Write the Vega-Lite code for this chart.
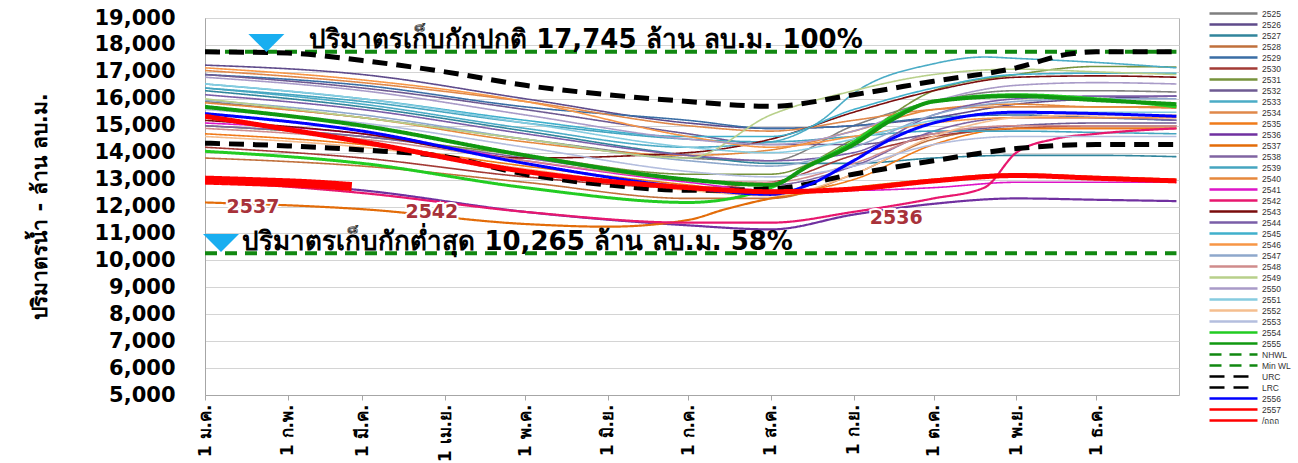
{
"$schema": "https://vega.github.io/schema/vega-lite/v6.json",
"width": 974, "height": 377,
"autosize": {"type": "none"},
"padding": {"left": 205, "top": 18, "right": 119, "bottom": 68},
"background": "white",
"config": {"view": {"stroke": "#b4b4b4"}, "font": "DejaVu Sans"},
"encoding": {
"x": {"field": "d", "type": "temporal",
 "scale": {"type": "utc", "domain": [{"year": 2014, "month": 1, "date": 1, "utc": true}, {"year": 2014, "month": 12, "date": 31, "hours": 23, "utc": true}]},
 "axis": {"title": null, "tickCount": {"interval": "month", "step": 1}, "labelExpr": "'1 ' + ['ม.ค.','ก.พ.','มี.ค.','เม.ย.','พ.ค.','มิ.ย.','ก.ค.','ส.ค.','ก.ย.','ต.ค.','พ.ย.','ธ.ค.'][utcmonth(datum.value)]", "labelAngle": 270, "labelFontSize": 17, "labelFontWeight": "bold", "labelColor": "black", "labelPadding": 4, "tickSize": 5, "tickColor": "#a6a6a6", "domainColor": "#a6a6a6", "grid": false, "labelOverlap": false, "labelFlush": false}},
"y": {"field": "v", "type": "quantitative",
 "scale": {"domain": [5000, 19000], "nice": false, "zero": false},
 "axis": {"values": [5000,6000,7000,8000,9000,10000,11000,12000,13000,14000,15000,16000,17000,18000,19000], "tickCount": 15, "labelExpr": "format(datum.value, ',')", "labelOverlap": false, "labelFontSize": 21, "labelFontWeight": "bold", "labelColor": "black", "labelPadding": 30, "ticks": false, "domainColor": "#a6a6a6", "gridColor": "#d4d4d4", "title": "ปริมาตรน้ำ - ล้าน ลบ.ม.", "titleFontSize": 21, "titleFontWeight": "bold", "titleColor": "black", "titleAngle": 270, "titleX": -165, "titleY": 188, "titleAlign": "center", "titleBaseline": "middle"}}
},
"layer": [
{
"data": {"values": [
{"s":"2525","d":"2014-01-01","v":15900},{"s":"2525","d":"2014-03-01","v":15300},{"s":"2525","d":"2014-05-01","v":14500},{"s":"2525","d":"2014-07-01","v":13800},{"s":"2525","d":"2014-08-01","v":13700},{"s":"2525","d":"2014-09-01","v":15000},{"s":"2525","d":"2014-10-01","v":15900},{"s":"2525","d":"2014-11-01","v":16300},{"s":"2525","d":"2014-12-01","v":16300},{"s":"2525","d":"2014-12-31","v":16250},
{"s":"2526","d":"2014-01-01","v":17250},{"s":"2526","d":"2014-03-01","v":16900},{"s":"2526","d":"2014-05-01","v":16000},{"s":"2526","d":"2014-07-01","v":15100},{"s":"2526","d":"2014-08-01","v":14900},{"s":"2526","d":"2014-09-01","v":15000},{"s":"2526","d":"2014-10-01","v":15300},{"s":"2526","d":"2014-11-01","v":15800},{"s":"2526","d":"2014-12-01","v":16000},{"s":"2526","d":"2014-12-31","v":16100},
{"s":"2527","d":"2014-01-01","v":16300},{"s":"2527","d":"2014-03-01","v":15700},{"s":"2527","d":"2014-05-01","v":14800},{"s":"2527","d":"2014-07-01","v":13900},{"s":"2527","d":"2014-08-01","v":13600},{"s":"2527","d":"2014-09-01","v":13600},{"s":"2527","d":"2014-10-01","v":13800},{"s":"2527","d":"2014-11-01","v":13900},{"s":"2527","d":"2014-12-01","v":13900},{"s":"2527","d":"2014-12-31","v":13850},
{"s":"2528","d":"2014-01-01","v":13800},{"s":"2528","d":"2014-03-01","v":13500},{"s":"2528","d":"2014-05-01","v":12900},{"s":"2528","d":"2014-07-01","v":12300},{"s":"2528","d":"2014-08-01","v":12300},{"s":"2528","d":"2014-09-01","v":13200},{"s":"2528","d":"2014-10-01","v":14500},{"s":"2528","d":"2014-11-01","v":14900},{"s":"2528","d":"2014-12-01","v":14900},{"s":"2528","d":"2014-12-31","v":14900},
{"s":"2529","d":"2014-01-01","v":16900},{"s":"2529","d":"2014-03-01","v":16500},{"s":"2529","d":"2014-05-01","v":15700},{"s":"2529","d":"2014-07-01","v":15200},{"s":"2529","d":"2014-08-01","v":14900},{"s":"2529","d":"2014-09-01","v":15000},{"s":"2529","d":"2014-10-01","v":15300},{"s":"2529","d":"2014-11-01","v":15400},{"s":"2529","d":"2014-12-01","v":15300},{"s":"2529","d":"2014-12-31","v":15200},
{"s":"2530","d":"2014-01-01","v":14200},{"s":"2530","d":"2014-03-01","v":13800},{"s":"2530","d":"2014-05-01","v":13100},{"s":"2530","d":"2014-07-01","v":12700},{"s":"2530","d":"2014-08-01","v":12900},{"s":"2530","d":"2014-09-01","v":13900},{"s":"2530","d":"2014-10-01","v":14600},{"s":"2530","d":"2014-11-01","v":14900},{"s":"2530","d":"2014-12-01","v":15000},{"s":"2530","d":"2014-12-31","v":15000},
{"s":"2531","d":"2014-01-01","v":15000},{"s":"2531","d":"2014-03-01","v":14600},{"s":"2531","d":"2014-05-01","v":13900},{"s":"2531","d":"2014-07-01","v":13200},{"s":"2531","d":"2014-08-01","v":13200},{"s":"2531","d":"2014-09-01","v":14500},{"s":"2531","d":"2014-10-01","v":16300},{"s":"2531","d":"2014-11-01","v":16900},{"s":"2531","d":"2014-12-01","v":17200},{"s":"2531","d":"2014-12-31","v":17180},
{"s":"2532","d":"2014-01-01","v":16900},{"s":"2532","d":"2014-03-01","v":16400},{"s":"2532","d":"2014-05-01","v":15600},{"s":"2532","d":"2014-07-01","v":14700},{"s":"2532","d":"2014-08-01","v":14300},{"s":"2532","d":"2014-09-01","v":14300},{"s":"2532","d":"2014-10-01","v":14700},{"s":"2532","d":"2014-11-01","v":15000},{"s":"2532","d":"2014-12-01","v":15100},{"s":"2532","d":"2014-12-31","v":15100},
{"s":"2533","d":"2014-01-01","v":16400},{"s":"2533","d":"2014-03-01","v":15800},{"s":"2533","d":"2014-05-01","v":14900},{"s":"2533","d":"2014-07-01","v":14200},{"s":"2533","d":"2014-08-01","v":14400},{"s":"2533","d":"2014-08-20","v":15200},{"s":"2533","d":"2014-09-01","v":16200},{"s":"2533","d":"2014-10-01","v":17300},{"s":"2533","d":"2014-10-20","v":17550},{"s":"2533","d":"2014-11-01","v":17500},{"s":"2533","d":"2014-12-01","v":17350},{"s":"2533","d":"2014-12-31","v":17150},
{"s":"2534","d":"2014-01-01","v":17050},{"s":"2534","d":"2014-03-01","v":16600},{"s":"2534","d":"2014-05-01","v":15900},{"s":"2534","d":"2014-07-01","v":15000},{"s":"2534","d":"2014-08-01","v":14800},{"s":"2534","d":"2014-09-01","v":15200},{"s":"2534","d":"2014-10-01","v":15600},{"s":"2534","d":"2014-11-01","v":15700},{"s":"2534","d":"2014-12-01","v":15700},{"s":"2534","d":"2014-12-31","v":15650},
{"s":"2535","d":"2014-01-01","v":14700},{"s":"2535","d":"2014-03-01","v":14300},{"s":"2535","d":"2014-05-01","v":13500},{"s":"2535","d":"2014-07-01","v":12800},{"s":"2535","d":"2014-08-01","v":12500},{"s":"2535","d":"2014-09-01","v":13000},{"s":"2535","d":"2014-10-01","v":14300},{"s":"2535","d":"2014-11-01","v":14900},{"s":"2535","d":"2014-12-01","v":14900},{"s":"2535","d":"2014-12-31","v":14900},
{"s":"2536","d":"2014-01-01","v":13000},{"s":"2536","d":"2014-03-01","v":12600},{"s":"2536","d":"2014-05-01","v":11800},{"s":"2536","d":"2014-07-01","v":11300},{"s":"2536","d":"2014-08-01","v":11150},{"s":"2536","d":"2014-09-01","v":11700},{"s":"2536","d":"2014-10-01","v":12100},{"s":"2536","d":"2014-11-01","v":12300},{"s":"2536","d":"2014-12-01","v":12250},{"s":"2536","d":"2014-12-31","v":12200},
{"s":"2537","d":"2014-01-01","v":12150},{"s":"2537","d":"2014-03-01","v":11900},{"s":"2537","d":"2014-05-01","v":11350},{"s":"2537","d":"2014-06-01","v":11250},{"s":"2537","d":"2014-07-01","v":11500},{"s":"2537","d":"2014-07-15","v":11900},{"s":"2537","d":"2014-08-01","v":12300},{"s":"2537","d":"2014-09-01","v":12700},{"s":"2537","d":"2014-10-01","v":13000},{"s":"2537","d":"2014-11-01","v":13200},{"s":"2537","d":"2014-12-01","v":13100},{"s":"2537","d":"2014-12-31","v":13000},
{"s":"2538","d":"2014-01-01","v":15000},{"s":"2538","d":"2014-03-01","v":14600},{"s":"2538","d":"2014-05-01","v":13800},{"s":"2538","d":"2014-07-01","v":13000},{"s":"2538","d":"2014-08-01","v":12800},{"s":"2538","d":"2014-09-01","v":13500},{"s":"2538","d":"2014-10-01","v":14800},{"s":"2538","d":"2014-11-01","v":15300},{"s":"2538","d":"2014-12-01","v":15300},{"s":"2538","d":"2014-12-31","v":15200},
{"s":"2539","d":"2014-01-01","v":16400},{"s":"2539","d":"2014-03-01","v":15900},{"s":"2539","d":"2014-05-01","v":15100},{"s":"2539","d":"2014-07-01","v":14500},{"s":"2539","d":"2014-08-01","v":14400},{"s":"2539","d":"2014-09-01","v":14600},{"s":"2539","d":"2014-10-01","v":14800},{"s":"2539","d":"2014-11-01","v":14800},{"s":"2539","d":"2014-12-01","v":14750},{"s":"2539","d":"2014-12-31","v":14700},
{"s":"2540","d":"2014-01-01","v":15850},{"s":"2540","d":"2014-03-01","v":15300},{"s":"2540","d":"2014-05-01","v":14400},{"s":"2540","d":"2014-07-01","v":13900},{"s":"2540","d":"2014-08-01","v":14100},{"s":"2540","d":"2014-09-01","v":14800},{"s":"2540","d":"2014-10-01","v":15600},{"s":"2540","d":"2014-11-01","v":15800},{"s":"2540","d":"2014-12-01","v":15700},{"s":"2540","d":"2014-12-31","v":15700},
{"s":"2541","d":"2014-01-01","v":15100},{"s":"2541","d":"2014-03-01","v":14700},{"s":"2541","d":"2014-05-01","v":13700},{"s":"2541","d":"2014-07-01","v":12900},{"s":"2541","d":"2014-08-01","v":12600},{"s":"2541","d":"2014-09-01","v":12600},{"s":"2541","d":"2014-10-01","v":12700},{"s":"2541","d":"2014-11-01","v":12900},{"s":"2541","d":"2014-12-01","v":12900},{"s":"2541","d":"2014-12-31","v":12900},
{"s":"2542","d":"2014-01-01","v":12950},{"s":"2542","d":"2014-03-01","v":12500},{"s":"2542","d":"2014-05-01","v":11800},{"s":"2542","d":"2014-07-01","v":11400},{"s":"2542","d":"2014-08-01","v":11400},{"s":"2542","d":"2014-09-01","v":11800},{"s":"2542","d":"2014-10-01","v":12300},{"s":"2542","d":"2014-10-20","v":12700},{"s":"2542","d":"2014-11-01","v":14000},{"s":"2542","d":"2014-11-15","v":14500},{"s":"2542","d":"2014-12-01","v":14700},{"s":"2542","d":"2014-12-31","v":14900},
{"s":"2543","d":"2014-01-01","v":15200},{"s":"2543","d":"2014-03-01","v":14700},{"s":"2543","d":"2014-05-01","v":13800},{"s":"2543","d":"2014-07-01","v":14000},{"s":"2543","d":"2014-08-01","v":14500},{"s":"2543","d":"2014-09-01","v":15500},{"s":"2543","d":"2014-10-01","v":16300},{"s":"2543","d":"2014-11-01","v":16800},{"s":"2543","d":"2014-12-01","v":16850},{"s":"2543","d":"2014-12-31","v":16800},
{"s":"2544","d":"2014-01-01","v":16150},{"s":"2544","d":"2014-03-01","v":15600},{"s":"2544","d":"2014-05-01","v":14700},{"s":"2544","d":"2014-07-01","v":13900},{"s":"2544","d":"2014-08-01","v":13700},{"s":"2544","d":"2014-09-01","v":14000},{"s":"2544","d":"2014-10-01","v":15400},{"s":"2544","d":"2014-11-01","v":16000},{"s":"2544","d":"2014-12-01","v":16100},{"s":"2544","d":"2014-12-31","v":16100},
{"s":"2545","d":"2014-01-01","v":16550},{"s":"2545","d":"2014-03-01","v":16000},{"s":"2545","d":"2014-05-01","v":15200},{"s":"2545","d":"2014-07-01","v":14600},{"s":"2545","d":"2014-08-01","v":14600},{"s":"2545","d":"2014-09-01","v":15600},{"s":"2545","d":"2014-10-01","v":16400},{"s":"2545","d":"2014-11-01","v":16900},{"s":"2545","d":"2014-12-01","v":16950},{"s":"2545","d":"2014-12-31","v":16950},
{"s":"2546","d":"2014-01-01","v":17150},{"s":"2546","d":"2014-03-01","v":16700},{"s":"2546","d":"2014-05-01","v":15900},{"s":"2546","d":"2014-07-01","v":14600},{"s":"2546","d":"2014-08-01","v":14200},{"s":"2546","d":"2014-09-01","v":14600},{"s":"2546","d":"2014-10-01","v":15100},{"s":"2546","d":"2014-11-01","v":15300},{"s":"2546","d":"2014-12-01","v":15300},{"s":"2546","d":"2014-12-31","v":15300},
{"s":"2547","d":"2014-01-01","v":15950},{"s":"2547","d":"2014-03-01","v":15400},{"s":"2547","d":"2014-05-01","v":14500},{"s":"2547","d":"2014-07-01","v":13700},{"s":"2547","d":"2014-08-01","v":13500},{"s":"2547","d":"2014-09-01","v":14200},{"s":"2547","d":"2014-10-01","v":15400},{"s":"2547","d":"2014-11-01","v":15900},{"s":"2547","d":"2014-12-01","v":16000},{"s":"2547","d":"2014-12-31","v":16000},
{"s":"2548","d":"2014-01-01","v":14900},{"s":"2548","d":"2014-03-01","v":14500},{"s":"2548","d":"2014-05-01","v":13700},{"s":"2548","d":"2014-07-01","v":13000},{"s":"2548","d":"2014-08-01","v":12900},{"s":"2548","d":"2014-09-01","v":13600},{"s":"2548","d":"2014-10-01","v":14700},{"s":"2548","d":"2014-11-01","v":15000},{"s":"2548","d":"2014-12-01","v":15000},{"s":"2548","d":"2014-12-31","v":15000},
{"s":"2549","d":"2014-01-01","v":16000},{"s":"2549","d":"2014-03-01","v":15300},{"s":"2549","d":"2014-05-01","v":14500},{"s":"2549","d":"2014-07-01","v":13800},{"s":"2549","d":"2014-08-01","v":15400},{"s":"2549","d":"2014-09-01","v":16300},{"s":"2549","d":"2014-10-01","v":16900},{"s":"2549","d":"2014-11-01","v":17100},{"s":"2549","d":"2014-12-01","v":17000},{"s":"2549","d":"2014-12-31","v":16900},
{"s":"2550","d":"2014-01-01","v":16800},{"s":"2550","d":"2014-03-01","v":16300},{"s":"2550","d":"2014-05-01","v":15400},{"s":"2550","d":"2014-07-01","v":14500},{"s":"2550","d":"2014-08-01","v":14300},{"s":"2550","d":"2014-09-01","v":14800},{"s":"2550","d":"2014-10-01","v":15900},{"s":"2550","d":"2014-11-01","v":16500},{"s":"2550","d":"2014-12-01","v":16600},{"s":"2550","d":"2014-12-31","v":16550},
{"s":"2551","d":"2014-01-01","v":16550},{"s":"2551","d":"2014-03-01","v":16000},{"s":"2551","d":"2014-05-01","v":15100},{"s":"2551","d":"2014-07-01","v":14200},{"s":"2551","d":"2014-08-01","v":14000},{"s":"2551","d":"2014-09-01","v":14500},{"s":"2551","d":"2014-10-01","v":15200},{"s":"2551","d":"2014-11-01","v":15500},{"s":"2551","d":"2014-12-01","v":15500},{"s":"2551","d":"2014-12-31","v":15500},
{"s":"2552","d":"2014-01-01","v":14600},{"s":"2552","d":"2014-03-01","v":14200},{"s":"2552","d":"2014-05-01","v":13400},{"s":"2552","d":"2014-07-01","v":12600},{"s":"2552","d":"2014-08-01","v":12400},{"s":"2552","d":"2014-09-01","v":13200},{"s":"2552","d":"2014-10-01","v":14600},{"s":"2552","d":"2014-11-01","v":15300},{"s":"2552","d":"2014-12-01","v":15400},{"s":"2552","d":"2014-12-31","v":15400},
{"s":"2553","d":"2014-01-01","v":15600},{"s":"2553","d":"2014-03-01","v":15100},{"s":"2553","d":"2014-05-01","v":14200},{"s":"2553","d":"2014-07-01","v":13300},{"s":"2553","d":"2014-08-01","v":13100},{"s":"2553","d":"2014-09-01","v":13500},{"s":"2553","d":"2014-10-01","v":14300},{"s":"2553","d":"2014-11-01","v":14600},{"s":"2553","d":"2014-12-01","v":14600},{"s":"2553","d":"2014-12-31","v":14600},
{"s":"2554","d":"2014-01-01","v":14050},{"s":"2554","d":"2014-03-01","v":13600},{"s":"2554","d":"2014-05-01","v":12700},{"s":"2554","d":"2014-07-01","v":12150},{"s":"2554","d":"2014-08-01","v":12700},{"s":"2554","d":"2014-08-15","v":13500},{"s":"2554","d":"2014-09-01","v":14400},{"s":"2554","d":"2014-09-15","v":15300},{"s":"2554","d":"2014-10-01","v":15900},{"s":"2554","d":"2014-11-01","v":16150},{"s":"2554","d":"2014-12-01","v":16000},{"s":"2554","d":"2014-12-31","v":15700},
{"s":"2555","d":"2014-01-01","v":15700},{"s":"2555","d":"2014-03-01","v":15000},{"s":"2555","d":"2014-05-01","v":13900},{"s":"2555","d":"2014-07-01","v":13000},{"s":"2555","d":"2014-08-01","v":12800},{"s":"2555","d":"2014-08-15","v":13500},{"s":"2555","d":"2014-09-01","v":14300},{"s":"2555","d":"2014-09-15","v":15200},{"s":"2555","d":"2014-10-01","v":15900},{"s":"2555","d":"2014-11-01","v":16100},{"s":"2555","d":"2014-12-01","v":15950},{"s":"2555","d":"2014-12-31","v":15800},
{"s":"NHWL","d":"2014-01-01","v":17745},{"s":"NHWL","d":"2014-12-31","v":17745},
{"s":"Min WL","d":"2014-01-01","v":10265},{"s":"Min WL","d":"2014-12-31","v":10265},
{"s":"URC","d":"2014-01-01","v":17745},{"s":"URC","d":"2014-02-01","v":17700},{"s":"URC","d":"2014-03-01","v":17420},{"s":"URC","d":"2014-04-01","v":17000},{"s":"URC","d":"2014-05-01","v":16500},{"s":"URC","d":"2014-06-01","v":16150},{"s":"URC","d":"2014-07-01","v":15900},{"s":"URC","d":"2014-08-01","v":15720},{"s":"URC","d":"2014-09-01","v":16150},{"s":"URC","d":"2014-10-01","v":16650},{"s":"URC","d":"2014-11-01","v":17150},{"s":"URC","d":"2014-11-20","v":17650},{"s":"URC","d":"2014-12-01","v":17745},{"s":"URC","d":"2014-12-31","v":17745},
{"s":"LRC","d":"2014-01-01","v":14350},{"s":"LRC","d":"2014-02-01","v":14250},{"s":"LRC","d":"2014-03-01","v":14100},{"s":"LRC","d":"2014-04-01","v":13850},{"s":"LRC","d":"2014-05-01","v":13200},{"s":"LRC","d":"2014-06-01","v":12800},{"s":"LRC","d":"2014-07-01","v":12600},{"s":"LRC","d":"2014-08-01","v":12650},{"s":"LRC","d":"2014-09-01","v":13200},{"s":"LRC","d":"2014-10-01","v":13700},{"s":"LRC","d":"2014-11-01","v":14150},{"s":"LRC","d":"2014-12-01","v":14300},{"s":"LRC","d":"2014-12-31","v":14300},
{"s":"2556","d":"2014-01-01","v":15450},{"s":"2556","d":"2014-03-01","v":14800},{"s":"2556","d":"2014-05-01","v":13600},{"s":"2556","d":"2014-07-01","v":12700},{"s":"2556","d":"2014-08-01","v":12450},{"s":"2556","d":"2014-08-15","v":12800},{"s":"2556","d":"2014-09-01","v":13700},{"s":"2556","d":"2014-09-15","v":14500},{"s":"2556","d":"2014-10-01","v":15100},{"s":"2556","d":"2014-11-01","v":15500},{"s":"2556","d":"2014-12-01","v":15450},{"s":"2556","d":"2014-12-31","v":15350},
{"s":"2557","d":"2014-01-01","v":15350},{"s":"2557","d":"2014-03-01","v":14400},{"s":"2557","d":"2014-05-01","v":13300},{"s":"2557","d":"2014-07-01","v":12700},{"s":"2557","d":"2014-08-01","v":12550},{"s":"2557","d":"2014-09-01","v":12650},{"s":"2557","d":"2014-10-01","v":12950},{"s":"2557","d":"2014-11-01","v":13150},{"s":"2557","d":"2014-12-01","v":13050},{"s":"2557","d":"2014-12-31","v":12950},
{"s":"/ถถถ","d":"2014-01-01","v":12980},{"s":"/ถถถ","d":"2014-01-20","v":12920},{"s":"/ถถถ","d":"2014-02-10","v":12840},{"s":"/ถถถ","d":"2014-02-25","v":12740}
]},
"mark": {"type": "line", "interpolate": "monotone", "clip": true},
"encoding": {
"color": {"field": "s", "type": "nominal",
 "scale": {"domain": ["2525","2526","2527","2528","2529","2530","2531","2532","2533","2534","2535","2536","2537","2538","2539","2540","2541","2542","2543","2544","2545","2546","2547","2548","2549","2550","2551","2552","2553","2554","2555","NHWL","Min WL","URC","LRC","2556","2557","/ถถถ"],
  "range": ["#7f7f7f","#5f4b8b","#31859c","#c0703c","#3a6ea5","#a33b36","#77933c","#6e5a92","#4bacc6","#e0884a","#f07b1a","#7030a0","#e36c09","#8064a2","#45a5c0","#e6883c","#dd15c8","#e8176e","#7a0c0c","#7a5ea8","#40b0cc","#f79646","#8ea8cc","#d08c8c","#b8d08a","#a99bc8","#86cce0","#f5be8f","#b4bede","#22cc22","#119911","#118811","#118811","#000000","#000000","#0000ff","#ff0000","#ff0000"]},
 "legend": {"title": null, "orient": "none", "legendX": 1023, "legendY": -10, "symbolType": "M-6,0H6", "symbolSize": 64, "symbolStrokeWidth": 2.5, "symbolLimit": 60, "labelFont": "Liberation Sans", "labelFontSize": 8.5, "labelColor": "#333333", "labelOffset": 23, "rowPadding": 0, "labelLimit": 60}},
"strokeDash": {"field": "s", "type": "nominal",
 "scale": {"domain": ["2525","2526","2527","2528","2529","2530","2531","2532","2533","2534","2535","2536","2537","2538","2539","2540","2541","2542","2543","2544","2545","2546","2547","2548","2549","2550","2551","2552","2553","2554","2555","NHWL","Min WL","URC","LRC","2556","2557","/ถถถ"],
  "range": [[1,0],[1,0],[1,0],[1,0],[1,0],[1,0],[1,0],[1,0],[1,0],[1,0],[1,0],[1,0],[1,0],[1,0],[1,0],[1,0],[1,0],[1,0],[1,0],[1,0],[1,0],[1,0],[1,0],[1,0],[1,0],[1,0],[1,0],[1,0],[1,0],[1,0],[1,0],[12,8],[12,8],[15,9],[15,9],[1,0],[1,0],[1,0]]},
 "legend": {"title": null, "orient": "none", "legendX": 1023, "legendY": -10, "symbolType": "M-6,0H6", "symbolSize": 64, "symbolStrokeWidth": 2.5, "symbolLimit": 60, "labelFont": "Liberation Sans", "labelFontSize": 8.5, "labelColor": "#333333", "labelOffset": 23, "rowPadding": 0, "labelLimit": 60}},
"strokeWidth": {"condition": [
  {"test": "datum.s === '/ถถถ'", "value": 9},
  {"test": "datum.s === '2557'", "value": 5},
  {"test": "datum.s === 'URC' || datum.s === 'LRC'", "value": 5},
  {"test": "datum.s === 'NHWL' || datum.s === 'Min WL'", "value": 4},
  {"test": "datum.s === '2555'", "value": 4},
  {"test": "datum.s === '2554' || datum.s === '2556'", "value": 3},
  {"test": "datum.s === '2536' || datum.s === '2537' || datum.s === '2542'", "value": 2.2}
 ], "value": 1.6}
}
},
{
"data": {"values": [{"d": "2014-01-24", "v": 18070}, {"d": "2014-01-07", "v": 10640}]},
"mark": {"type": "point", "shape": "M-1,-0.5L1,-0.5L0,0.5Z", "size": 1296, "filled": true, "color": "#19aef0", "opacity": 1}
},
{
"data": {"values": [{"d": "2014-02-09", "v": 18200, "t": "ปริมาตรเก็บกักปกติ  17,745 ล้าน ลบ.ม. 100%"}, {"d": "2014-01-15", "v": 10680, "t": "ปริมาตรเก็บกักต่ำสุด  10,265 ล้าน ลบ.ม. 58%"}]},
"mark": {"type": "text", "align": "left", "baseline": "middle", "fontSize": 26, "fontWeight": "bold", "color": "black"},
"encoding": {"text": {"field": "t"}}
},
{
"data": {"values": [{"d": "2014-01-19", "v": 11980, "t": "2537"}, {"d": "2014-03-27", "v": 11800, "t": "2542"}, {"d": "2014-09-17", "v": 11570, "t": "2536"}]},
"mark": {"type": "text", "align": "center", "baseline": "middle", "fontSize": 19, "fontWeight": "bold", "color": "white", "stroke": "white", "strokeWidth": 4},
"encoding": {"text": {"field": "t"}}
},
{
"data": {"values": [{"d": "2014-01-19", "v": 11980, "t": "2537"}, {"d": "2014-03-27", "v": 11800, "t": "2542"}, {"d": "2014-09-17", "v": 11570, "t": "2536"}]},
"mark": {"type": "text", "align": "center", "baseline": "middle", "fontSize": 19, "fontWeight": "bold", "color": "#a8323a"},
"encoding": {"text": {"field": "t"}}
}
]
}
